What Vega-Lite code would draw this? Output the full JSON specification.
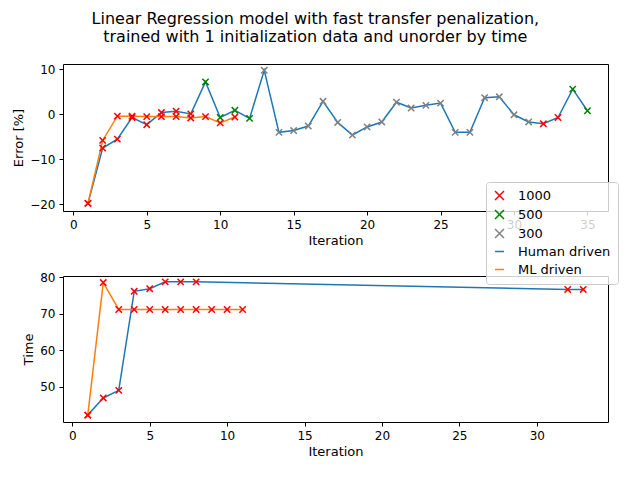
{
  "$schema": "https://vega.github.io/schema/vega-lite/v6.json",
  "padding": {"left": 12, "top": 10, "right": 10, "bottom": 5},
  "title": {"text": ["Linear Regression model with fast transfer  penalization,", "trained with 1 initialization data and unorder by time"], "font": "DejaVu Sans", "fontSize": 16, "fontWeight": "normal", "anchor": "middle", "offset": 18},
  "data": {"values": [
    {"p":"top","m":"Human driven","s":"1000","x":1,"y":-19.8},
    {"p":"top","m":"Human driven","s":"1000","x":2,"y":-7.5},
    {"p":"top","m":"Human driven","s":"1000","x":3,"y":-5.5},
    {"p":"top","m":"Human driven","s":"1000","x":4,"y":-0.7},
    {"p":"top","m":"Human driven","s":"1000","x":5,"y":-2.3},
    {"p":"top","m":"Human driven","s":"1000","x":6,"y":0.4},
    {"p":"top","m":"Human driven","s":"1000","x":7,"y":0.7},
    {"p":"top","m":"Human driven","s":"1000","x":8,"y":0.1},
    {"p":"top","m":"Human driven","s":"500","x":9,"y":7.2},
    {"p":"top","m":"Human driven","s":"500","x":10,"y":-0.7},
    {"p":"top","m":"Human driven","s":"500","x":11,"y":0.9},
    {"p":"top","m":"Human driven","s":"500","x":12,"y":-0.9},
    {"p":"top","m":"Human driven","s":"300","x":13,"y":9.8},
    {"p":"top","m":"Human driven","s":"300","x":14,"y":-4.0},
    {"p":"top","m":"Human driven","s":"300","x":15,"y":-3.6},
    {"p":"top","m":"Human driven","s":"300","x":16,"y":-2.6},
    {"p":"top","m":"Human driven","s":"300","x":17,"y":2.9},
    {"p":"top","m":"Human driven","s":"300","x":18,"y":-1.8},
    {"p":"top","m":"Human driven","s":"300","x":19,"y":-4.6},
    {"p":"top","m":"Human driven","s":"300","x":20,"y":-2.8},
    {"p":"top","m":"Human driven","s":"300","x":21,"y":-1.7},
    {"p":"top","m":"Human driven","s":"300","x":22,"y":2.7},
    {"p":"top","m":"Human driven","s":"300","x":23,"y":1.4},
    {"p":"top","m":"Human driven","s":"300","x":24,"y":2.0},
    {"p":"top","m":"Human driven","s":"300","x":25,"y":2.5},
    {"p":"top","m":"Human driven","s":"300","x":26,"y":-4.0},
    {"p":"top","m":"Human driven","s":"300","x":27,"y":-4.0},
    {"p":"top","m":"Human driven","s":"300","x":28,"y":3.7},
    {"p":"top","m":"Human driven","s":"300","x":29,"y":3.9},
    {"p":"top","m":"Human driven","s":"300","x":30,"y":-0.1},
    {"p":"top","m":"Human driven","s":"300","x":31,"y":-1.7},
    {"p":"top","m":"Human driven","s":"1000","x":32,"y":-2.1},
    {"p":"top","m":"Human driven","s":"1000","x":33,"y":-0.7},
    {"p":"top","m":"Human driven","s":"500","x":34,"y":5.6},
    {"p":"top","m":"Human driven","s":"500","x":35,"y":0.8},
    {"p":"top","m":"ML driven","s":"1000","x":1,"y":-19.8},
    {"p":"top","m":"ML driven","s":"1000","x":2,"y":-5.8},
    {"p":"top","m":"ML driven","s":"1000","x":3,"y":-0.4},
    {"p":"top","m":"ML driven","s":"1000","x":4,"y":-0.4},
    {"p":"top","m":"ML driven","s":"1000","x":5,"y":-0.5},
    {"p":"top","m":"ML driven","s":"1000","x":6,"y":-0.5},
    {"p":"top","m":"ML driven","s":"1000","x":7,"y":-0.5},
    {"p":"top","m":"ML driven","s":"1000","x":8,"y":-0.8},
    {"p":"top","m":"ML driven","s":"1000","x":9,"y":-0.5},
    {"p":"top","m":"ML driven","s":"1000","x":10,"y":-1.9},
    {"p":"top","m":"ML driven","s":"1000","x":11,"y":-0.6},
    {"p":"bottom","m":"Human driven","s":"1000","x":1,"y":42.2},
    {"p":"bottom","m":"Human driven","s":"1000","x":2,"y":46.9},
    {"p":"bottom","m":"Human driven","s":"1000","x":3,"y":49.0},
    {"p":"bottom","m":"Human driven","s":"1000","x":4,"y":76.2},
    {"p":"bottom","m":"Human driven","s":"1000","x":5,"y":76.9},
    {"p":"bottom","m":"Human driven","s":"1000","x":6,"y":78.8},
    {"p":"bottom","m":"Human driven","s":"1000","x":7,"y":78.8},
    {"p":"bottom","m":"Human driven","s":"1000","x":8,"y":78.8},
    {"p":"bottom","m":"Human driven","s":"1000","x":32,"y":76.7},
    {"p":"bottom","m":"Human driven","s":"1000","x":33,"y":76.7},
    {"p":"bottom","m":"ML driven","s":"1000","x":1,"y":42.2},
    {"p":"bottom","m":"ML driven","s":"1000","x":2,"y":78.6},
    {"p":"bottom","m":"ML driven","s":"1000","x":3,"y":71.2},
    {"p":"bottom","m":"ML driven","s":"1000","x":4,"y":71.2},
    {"p":"bottom","m":"ML driven","s":"1000","x":5,"y":71.2},
    {"p":"bottom","m":"ML driven","s":"1000","x":6,"y":71.2},
    {"p":"bottom","m":"ML driven","s":"1000","x":7,"y":71.2},
    {"p":"bottom","m":"ML driven","s":"1000","x":8,"y":71.2},
    {"p":"bottom","m":"ML driven","s":"1000","x":9,"y":71.2},
    {"p":"bottom","m":"ML driven","s":"1000","x":10,"y":71.2},
    {"p":"bottom","m":"ML driven","s":"1000","x":11,"y":71.2}
  ]},
  "vconcat": [
    {
      "width": 545, "height": 147,
      "transform": [{"filter": "datum.p == 'top'"}],
      "encoding": {
        "x": {"field": "x", "type": "quantitative", "title": "Iteration", "scale": {"domain": [-0.7, 36.4], "nice": false}, "axis": {"values": [0,5,10,15,20,25,30,35]}},
        "y": {"field": "y", "type": "quantitative", "title": "Error [%]", "scale": {"domain": [-21.5, 11.2], "nice": false}, "axis": {"values": [-20,-10,0,10]}}
      },
      "layer": [
        {"mark": {"type": "line", "strokeWidth": 1.5}, "encoding": {"color": {"field": "m", "type": "nominal", "title": null}, "detail": {"field": "m"}}},
        {"mark": {"type": "point", "filled": false, "strokeWidth": 1.5, "size": 40, "opacity": 1}, "encoding": {"color": {"field": "s", "type": "nominal", "title": null}, "shape": {"field": "s", "type": "nominal", "title": null}}}
      ]
    },
    {
      "width": 545, "height": 146,
      "transform": [{"filter": "datum.p == 'bottom'"}],
      "encoding": {
        "x": {"field": "x", "type": "quantitative", "title": "Iteration", "scale": {"domain": [-0.6, 34.6], "nice": false}, "axis": {"values": [0,5,10,15,20,25,30]}},
        "y": {"field": "y", "type": "quantitative", "title": "Time", "scale": {"domain": [40.3, 80.4], "nice": false}, "axis": {"values": [50,60,70,80]}}
      },
      "layer": [
        {"mark": {"type": "line", "strokeWidth": 1.5}, "encoding": {"color": {"field": "m", "type": "nominal", "title": null, "scale": {"domain": ["1000", "500", "300", "Human driven", "ML driven"], "range": ["red", "green", "gray", "#1f77b4", "#ff7f0e"]}}, "detail": {"field": "m"}}},
        {"mark": {"type": "point", "filled": false, "strokeWidth": 1.5, "size": 40, "opacity": 1}, "encoding": {"color": {"field": "s", "type": "nominal", "title": null}, "shape": {"field": "s", "type": "nominal", "title": null, "scale": {"domain": ["1000", "500", "300", "Human driven", "ML driven"], "range": ["M-1,-1L1,1M1,-1L-1,1", "M-1,-1L1,1M1,-1L-1,1", "M-1,-1L1,1M1,-1L-1,1", "stroke", "stroke"]}}}}
      ]
    }
  ],
  "spacing": 22,
  "resolve": {"scale": {"color": "shared", "shape": "shared"}},
  "config": {
    "font": "DejaVu Sans",
    "view": {"stroke": "black", "strokeWidth": 1},
    "axis": {"grid": false, "domain": false, "tickColor": "black", "labelColor": "black", "titleColor": "black", "labelFontSize": 12, "titleFontSize": 13, "titleFontWeight": "normal", "labelPadding": 4, "tickSize": 4},
    "scale": {"zero": false},
    "legend": {"orient": "none", "legendX": 423, "legendY": 118, "labelFontSize": 13, "strokeColor": "#cccccc", "fillColor": "rgba(255,255,255,0.8)", "padding": 7, "cornerRadius": 3, "rowPadding": 4, "symbolStrokeWidth": 1.5, "labelOffset": 12, "symbolSize": 80}
  }
}
